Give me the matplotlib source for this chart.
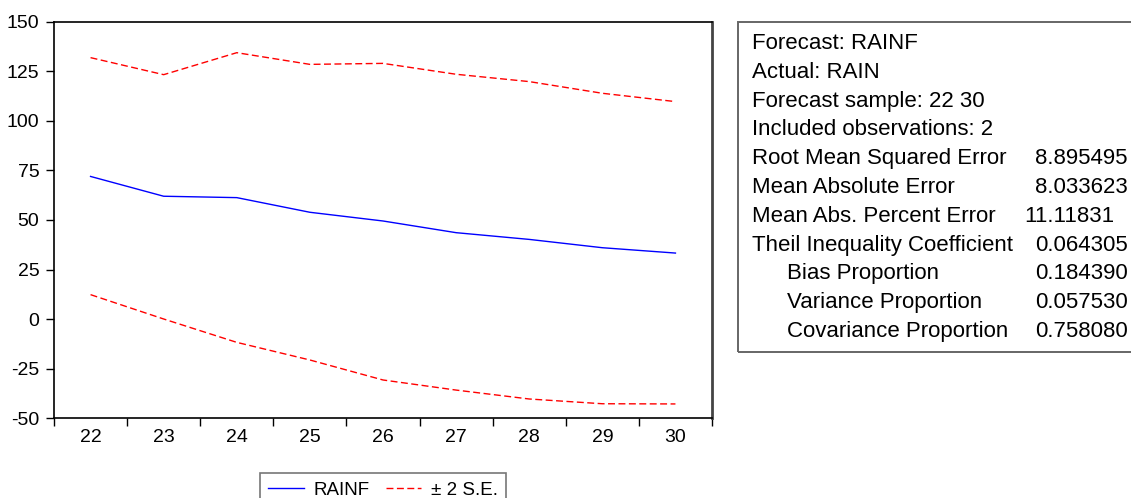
import numpy as np
import matplotlib
matplotlib.use("Agg")
import matplotlib.pyplot as plt
from matplotlib.patches import Rectangle

plt.rcParams["font.family"] = ["Liberation Sans", "DejaVu Sans"]

# forecast values
periods = ["22", "23", "24", "25", "26", "27", "28", "29", "30"]
rainf = [72.0, 62.0, 61.3, 53.9, 49.5, 43.6, 40.2, 36.0, 33.3]
upper = [132.0, 123.4, 134.5, 128.6, 129.1, 123.6, 119.9, 114.0, 109.8]
lower = [12.3, 0.0, -11.8, -20.7, -30.8, -35.9, -40.4, -42.8, -42.9]

yticks = [150, 125, 100, 75, 50, 25, 0, -25, -50]

# forecast evaluation table
stat_labels = ["Forecast: RAINF", "Actual: RAIN", "Forecast sample: 22 30",
               "Included observations: 2", "Root Mean Squared Error",
               "Mean Absolute Error", "Mean Abs. Percent Error",
               "Theil Inequality Coefficient", "Bias Proportion",
               "Variance Proportion", "Covariance Proportion"]
stat_values = ["", "", "", "", "8.895495", "8.033623", "11.11831",
               "0.064305", "0.184390", "0.057530", "0.758080"]
indented = [False] * 8 + [True] * 3

W, H = 1131, 498
fig = plt.figure(figsize=(W / 100, H / 100), dpi=100)
ax = fig.add_axes([54 / W, 1 - 418 / H, (712 - 54) / W, (418 - 22) / H])

x = np.arange(len(periods))
ax.plot(x, rainf, color="#0000ff", lw=1.0, label="RAINF")
ax.plot(x, upper, color="#ff0000", lw=1.0, dashes=(5, 2.5), label="\u00b1 2 S.E.")
ax.plot(x, lower, color="#ff0000", lw=1.0, dashes=(5, 2.5))

ax.set_xlim(-0.5, len(periods) - 0.5)
ax.set_ylim(-50, 150)
ax.set_yticks(yticks)
ax.set_yticklabels([str(v) for v in yticks])
ax.tick_params(axis="y", length=6, width=1, pad=4.5, labelsize=14)

# category labels in the middle, tick marks between them
ax.set_xticks(np.arange(-0.5, len(periods), 1.0))
ax.set_xticklabels([])
ax.set_xticks(x, minor=True)
ax.set_xticklabels(periods, minor=True)
ax.tick_params(axis="x", which="major", length=6, width=1)
ax.tick_params(axis="x", which="minor", length=0, pad=8, labelsize=14)

for s in ["left", "bottom", "top"]:
    ax.spines[s].set_linewidth(1.2)
    ax.spines[s].set_color("black")
ax.spines["right"].set_linewidth(2)
ax.spines["right"].set_color("#444444")

leg = fig.legend(loc="upper center", bbox_to_anchor=(383 / W, 1 - 473 / H),
                 ncol=2, fontsize=13.5, frameon=True, fancybox=False,
                 edgecolor="#555555", handlelength=1.9, handletextpad=0.5,
                 columnspacing=0.85, borderpad=0.45, borderaxespad=0)
leg.get_frame().set_linewidth(1.2)

# statistics box
fig.patches.append(Rectangle((738 / W, 1 - 352 / H), 1.0, (352 - 22) / H,
                             transform=fig.transFigure, fill=False,
                             edgecolor="#666666", lw=1.4))
for i, (lab, val, ind) in enumerate(zip(stat_labels, stat_values, indented)):
    yy = 1 - (43.5 + i * 28.8) / H
    fig.text((787 if ind else 752) / W, yy, lab, fontsize=16, va="center")
    if val:
        vx = 1114 if val.startswith("11") else 1128
        fig.text(vx / W, yy, val, fontsize=16, va="center", ha="right")

fig.savefig("out.png", dpi=100)
